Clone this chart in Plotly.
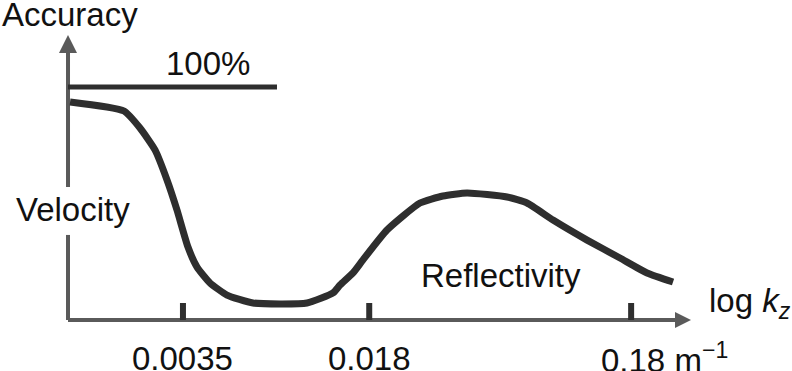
import numpy as np
import plotly.graph_objects as go

# ---- data ----
k_vals = [0.001297, 0.002084, 0.002399, 0.002737, 0.003042, 0.003321, 0.003658,
          0.003961, 0.004439, 0.005153, 0.006479, 0.010415, 0.013094, 0.013925,
          0.01561, 0.01704, 0.02104, 0.02812, 0.03442, 0.04253, 0.06047, 0.07205,
          0.09059, 0.1222, 0.1632, 0.2071, 0.2602]
accuracy = [93.6, 89.7, 82.4, 73.0, 60.1, 47.2, 31.3,
            22.7, 15.9, 10.7, 7.3, 7.3, 11.6, 15.0,
            20.2, 25.8, 38.6, 50.2, 53.2, 54.5, 52.8, 50.2,
            42.9, 34.3, 26.6, 20.2, 16.3]

tick_k = [0.0035, 0.018, 0.18]
tick_labels = ["0.0035", "0.018", "0.18 m<sup>\u22121</sup>"]
tick_height = 7.3

origin_k = 0.001274
x_axis_end_k = 0.3047
y_axis_end = 122.3
y_gap = [36.5, 57.1]
full_level = 100.0
full_line_end_k = 0.0080

x_range_log = [-3.1545, -0.1305]
y_range = [-21.89, 137.34]

AXIS = "#5a5a5a"
INK = "#2e2e2e"
TXT = "#111111"
FONT = "Liberation Sans, Arial, sans-serif"

fig = go.Figure()

# y axis (with gap around the "Velocity" label)
fig.add_trace(go.Scatter(x=[origin_k, origin_k, None, origin_k, origin_k],
                         y=[0, y_gap[0], None, y_gap[1], y_axis_end - 6],
                         mode="lines", line=dict(color=AXIS, width=4),
                         hoverinfo="skip"))
# x axis
fig.add_trace(go.Scatter(x=[origin_k, x_axis_end_k / 1.08], y=[0, 0],
                         mode="lines", line=dict(color=AXIS, width=4),
                         hoverinfo="skip"))
# arrow heads
fig.add_trace(go.Scatter(x=[origin_k], y=[y_axis_end], mode="markers",
                         marker=dict(symbol="arrow-up", size=18, color=AXIS,
                                     line=dict(width=0)), hoverinfo="skip"))
fig.add_trace(go.Scatter(x=[x_axis_end_k], y=[0], mode="markers",
                         marker=dict(symbol="arrow-right", size=16, color=AXIS,
                                     line=dict(width=0)), hoverinfo="skip"))

# tick marks
tx, ty = [], []
for k in tick_k:
    tx += [k, k, None]
    ty += [0, tick_height, None]
fig.add_trace(go.Scatter(x=tx, y=ty, mode="lines",
                         line=dict(color=INK, width=6), hoverinfo="skip"))

# 100% line
fig.add_trace(go.Scatter(x=[origin_k, full_line_end_k], y=[full_level, full_level],
                         mode="lines", line=dict(color=INK, width=5),
                         hoverinfo="skip"))

# accuracy curve
fig.add_trace(go.Scatter(x=k_vals, y=accuracy, mode="lines",
                         line=dict(color=INK, width=7, shape="spline", smoothing=0.5),
                         hoverinfo="skip"))

def px_to_y(py):
    return (320 - py) / 2.33

ann = []
font = dict(family=FONT, size=33, color=TXT)
ann.append(dict(x=0.0, xref="paper", y=px_to_y(14), yref="y", text="Accuracy",
                xanchor="left", yanchor="middle", showarrow=False, font=font))
ann.append(dict(x=208 / 792, xref="paper", y=px_to_y(63), yref="y", text="100%",
                xanchor="center", yanchor="middle", showarrow=False, font=font))
ann.append(dict(x=73 / 792, xref="paper", y=px_to_y(209), yref="y", text="Velocity",
                xanchor="center", yanchor="middle", showarrow=False, font=font))
ann.append(dict(x=501 / 792, xref="paper", y=px_to_y(275), yref="y", text="Reflectivity",
                xanchor="center", yanchor="middle", showarrow=False, font=font))
ann.append(dict(x=707 / 792, xref="paper", y=px_to_y(303), yref="y",
                text="log <i>k<sub>z</sub></i>",
                xanchor="left", yanchor="middle", showarrow=False, font=font))
for k, lab in zip(tick_k, tick_labels):
    if "m" in lab:
        ann.append(dict(x=np.log10(k), xref="x", y=px_to_y(358), yref="y", text=lab,
                        xanchor="left", yanchor="middle", xshift=-32,
                        showarrow=False, font=font))
    else:
        ann.append(dict(x=np.log10(k), xref="x", y=px_to_y(358), yref="y", text=lab,
                        xanchor="center", yanchor="middle", showarrow=False, font=font))

fig.update_layout(
    width=792, height=371,
    margin=dict(l=0, r=0, t=0, b=0),
    paper_bgcolor="white", plot_bgcolor="white",
    showlegend=False,
    annotations=ann,
    xaxis=dict(type="log", range=x_range_log, visible=False, fixedrange=True),
    yaxis=dict(range=y_range, visible=False, fixedrange=True),
)

fig.write_html("out.html",
               config={"displayModeBar": False},
               post_script="document.body.style.margin='0';document.body.style.overflow='hidden';")
